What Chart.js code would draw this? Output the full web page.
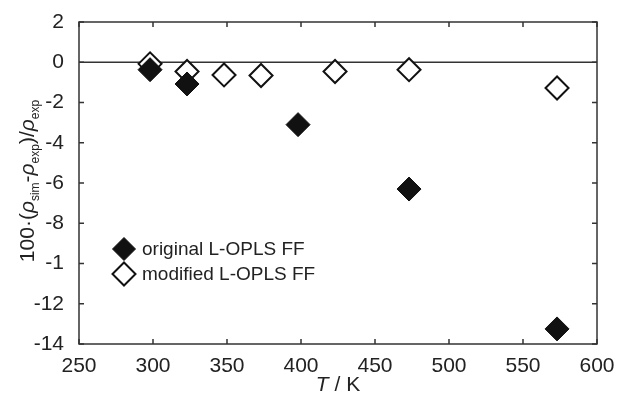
<!DOCTYPE html>
<html>
<head>
<meta charset="utf-8">
<script src="https://cdn.jsdelivr.net/npm/chart.js@4.4.1/dist/chart.umd.min.js"></script>
<style>
  html, body { margin: 0; padding: 0; background: #fff; }
  #wrap { width: 619px; height: 397px; }
</style>
</head>
<body>
<div id="wrap"><canvas id="chart" width="619" height="397"></canvas></div>
<script>
// data
const tempsOriginal = [298, 323, 398, 473, 573];
const devOriginal = [-0.37, -1.08, -3.1, -6.3, -13.25];
const tempsModified = [298, 323, 348, 373, 423, 473, 573];
const devModified = [-0.08, -0.46, -0.63, -0.66, -0.46, -0.37, -1.28];

const xTickValues = [250, 300, 350, 400, 450, 500, 550, 600];
const yTickValues = [2, 0, -2, -4, -6, -8, -10, -12, -14];
const yTickLabels = ['2', '0', '-2', '-4', '-6', '-8', '-1', '-12', '-14'];

const seriesLabels = ['original L-OPLS FF', 'modified L-OPLS FF'];

const FONT = '"Liberation Sans", Arial, Helvetica, sans-serif';
const AXIS_COLOR = '#333';
const TEXT_COLOR = '#222';

function toPoints(xs, ys) {
  return xs.map((x, i) => ({ x: x, y: ys[i] }));
}

// drop the label overhang so layout.padding alone places the plot box
function noOverhang(scale) {
  scale.paddingTop = 0;
  scale.paddingBottom = 0;
  scale.paddingLeft = 0;
  scale.paddingRight = 0;
}

// frame, inward ticks and zero line
const framePlugin = {
  id: 'frame',
  beforeDatasetsDraw(chart) {
    const ctx = chart.ctx;
    const area = chart.chartArea;
    const xs = chart.scales.x;
    const ys = chart.scales.y;
    const tick = 5;
    ctx.save();
    ctx.strokeStyle = AXIS_COLOR;
    ctx.lineWidth = 1.5;

    // zero line
    const y0 = ys.getPixelForValue(0);
    ctx.beginPath();
    ctx.moveTo(area.left, y0);
    ctx.lineTo(area.right, y0);
    ctx.stroke();

    ctx.strokeRect(area.left, area.top, area.right - area.left, area.bottom - area.top);

    ctx.beginPath();
    xTickValues.forEach(v => {
      const px = xs.getPixelForValue(v);
      ctx.moveTo(px, area.bottom);
      ctx.lineTo(px, area.bottom - tick);
      ctx.moveTo(px, area.top);
      ctx.lineTo(px, area.top + tick);
    });
    yTickValues.forEach(v => {
      const py = ys.getPixelForValue(v);
      ctx.moveTo(area.left, py);
      ctx.lineTo(area.left + tick, py);
      ctx.moveTo(area.right, py);
      ctx.lineTo(area.right - tick, py);
    });
    ctx.stroke();
    ctx.restore();
  }
};

// axis titles with subscripts, and the in-plot legend
const textPlugin = {
  id: 'texts',
  afterDraw(chart) {
    const ctx = chart.ctx;
    const area = chart.chartArea;
    ctx.save();
    ctx.fillStyle = TEXT_COLOR;
    ctx.textBaseline = 'alphabetic';

    // x title: T / K
    const big = '21px ' + FONT;
    const bigItalic = 'italic 21px ' + FONT;
    ctx.font = bigItalic;
    const wT = ctx.measureText('T').width;
    ctx.font = big;
    const wRest = ctx.measureText(' / K').width;
    let x = (area.left + area.right) / 2 - (wT + wRest) / 2;
    const yBase = 391;
    ctx.font = bigItalic;
    ctx.fillText('T', x, yBase);
    ctx.font = big;
    ctx.fillText(' / K', x + wT, yBase);

    // y title: 100·(ρsim-ρexp)/ρexp
    const sub = '12px ' + FONT;
    const parts = [
      { t: '100·(', f: big, dy: 0 },
      { t: 'ρ', f: bigItalic, dy: 0 },
      { t: 'sim', f: sub, dy: 5 },
      { t: '-', f: big, dy: 0 },
      { t: 'ρ', f: bigItalic, dy: 0 },
      { t: 'exp', f: sub, dy: 5 },
      { t: ')/', f: big, dy: 0 },
      { t: 'ρ', f: bigItalic, dy: 0 },
      { t: 'exp', f: sub, dy: 5 }
    ];
    let total = 0;
    parts.forEach(p => { ctx.font = p.f; p.w = ctx.measureText(p.t).width; total += p.w; });
    ctx.translate(34, 181);
    ctx.rotate(-Math.PI / 2);
    let cx = -total / 2;
    parts.forEach(p => {
      ctx.font = p.f;
      ctx.fillText(p.t, cx, p.dy);
      cx += p.w;
    });
    ctx.setTransform(1, 0, 0, 1, 0, 0);

    // legend
    const legendX = 124;
    const legendY = [249, 274];
    chart.data.datasets.forEach((ds, i) => {
      ctx.fillStyle = ds.backgroundColor;
      ctx.strokeStyle = ds.borderColor;
      ctx.lineWidth = ds.borderWidth;
      Chart.helpers.drawPoint(ctx, { pointStyle: 'rectRot', radius: 11.5, borderWidth: ds.borderWidth }, legendX, legendY[i]);
      ctx.fillStyle = TEXT_COLOR;
      ctx.font = '19px ' + FONT;
      ctx.textBaseline = 'middle';
      ctx.fillText(ds.label, legendX + 18, legendY[i] + 1);
    });
    ctx.restore();
  }
};

new Chart(document.getElementById('chart'), {
  type: 'scatter',
  data: {
    datasets: [
      {
        label: seriesLabels[0],
        data: toPoints(tempsOriginal, devOriginal),
        pointStyle: 'rectRot',
        pointRadius: 12,
        pointHoverRadius: 12,
        backgroundColor: '#111',
        borderColor: '#111',
        borderWidth: 1
      },
      {
        label: seriesLabels[1],
        data: toPoints(tempsModified, devModified),
        pointStyle: 'rectRot',
        pointRadius: 11.5,
        pointHoverRadius: 11.5,
        backgroundColor: '#fff',
        borderColor: '#111',
        borderWidth: 2
      }
    ]
  },
  options: {
    responsive: false,
    animation: false,
    devicePixelRatio: 1,
    layout: { padding: { left: 0, top: 22, right: 22, bottom: 0 } },
    plugins: {
      legend: { display: false },
      tooltip: { enabled: false }
    },
    scales: {
      x: {
        type: 'linear',
        min: 250,
        max: 600,
        afterBuildTicks: scale => { scale.ticks = xTickValues.map(v => ({ value: v })); },
        grid: { display: false, drawTicks: false },
        border: { display: false },
        ticks: {
          padding: 10,
          color: TEXT_COLOR,
          font: { family: FONT, size: 21 },
          maxRotation: 0
        },
        afterFit: scale => { scale.height = 53; noOverhang(scale); }
      },
      y: {
        type: 'linear',
        min: -14,
        max: 2,
        afterBuildTicks: scale => { scale.ticks = yTickValues.map(v => ({ value: v })); },
        grid: { display: false, drawTicks: false },
        border: { display: false },
        ticks: {
          padding: 15,
          color: TEXT_COLOR,
          font: { family: FONT, size: 21 },
          callback: value => {
            const i = yTickValues.indexOf(value);
            return i >= 0 ? yTickLabels[i] : '';
          }
        },
        afterFit: scale => { scale.width = 79; noOverhang(scale); }
      }
    }
  },
  plugins: [framePlugin, textPlugin]
});
</script>
</body>
</html>
